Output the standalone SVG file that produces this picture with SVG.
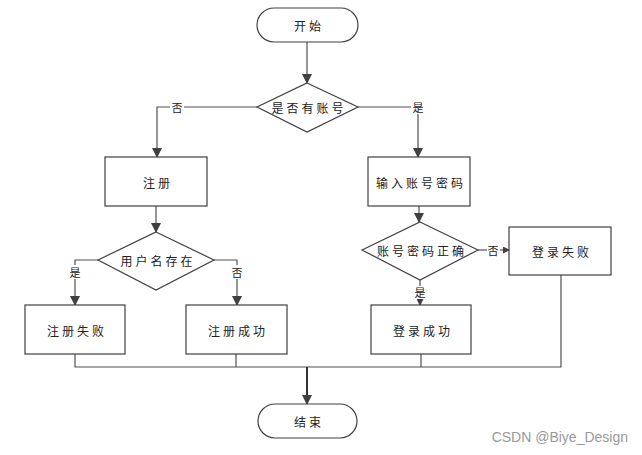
<svg xmlns="http://www.w3.org/2000/svg" width="642" height="455" viewBox="0 0 642 455">
<defs>
<style>
.n{fill:#fff;stroke:#404040;stroke-width:1.2}
.t{font-family:"Noto Sans CJK SC","Liberation Serif",serif;font-size:12px;fill:#222;text-anchor:middle;dominant-baseline:central;letter-spacing:3px}
.c{fill:none;stroke:#505050;stroke-width:1.2}
.lb{font-family:"Noto Sans CJK SC","Liberation Serif",serif;font-size:11px;fill:#222;text-anchor:middle;dominant-baseline:central}
.bg{fill:#fff}
</style>
<marker id="a" markerWidth="10" markerHeight="10" refX="9" refY="5" orient="auto" markerUnits="userSpaceOnUse"><path d="M0,0 L10,5 L0,10 Z" fill="#404040"/></marker>
<marker id="s" markerWidth="7" markerHeight="7" refX="6" refY="3.5" orient="auto" markerUnits="userSpaceOnUse"><path d="M0,0 L7,3.5 L0,7 Z" fill="#404040"/></marker>
</defs>
<rect width="642" height="455" fill="#fff"/>
<g id="connectors">
<path class="c" d="M307,42 V83" marker-end="url(#a)"/>
<path class="c" d="M257,107 H157 V157" marker-end="url(#a)"/>
<path class="c" d="M358,107 H418 V157" marker-end="url(#a)"/>
<path class="c" d="M156,206 V232" marker-end="url(#a)"/>
<path class="c" d="M419,206 V222" marker-end="url(#a)"/>
<path class="c" d="M98,260 H75 V305" marker-end="url(#a)"/>
<path class="c" d="M214,260 H237 V305" marker-end="url(#a)"/>
<path class="c" d="M478,250 H509" marker-end="url(#s)"/>
<path class="c" d="M420,280 V305" marker-end="url(#s)"/>
<path class="c" d="M75,354 V367 H561 V275"/>
<path class="c" d="M236,354 V367 M421,354 V367"/>
<path d="M307,367 V404" fill="none" stroke="#333" stroke-width="2" marker-end="url(#a)"/>
<rect class="bg" x="170" y="100" width="14" height="14"/>
<text class="lb" x="177" y="107">否</text>
<rect class="bg" x="411" y="100" width="14" height="14"/>
<text class="lb" x="418" y="107">是</text>
<rect class="bg" x="68" y="265" width="14" height="14"/>
<text class="lb" x="75" y="272">是</text>
<rect class="bg" x="230" y="265" width="14" height="14"/>
<text class="lb" x="237" y="272">否</text>
<rect class="bg" x="487" y="243" width="13" height="14"/>
<text class="lb" x="493" y="250">否</text>
<rect class="bg" x="413" y="286" width="14" height="13"/>
<text class="lb" x="420" y="292">是</text>
</g>
<g id="start"><rect class="n" x="257" y="8" width="101" height="34" rx="17"/><text class="t" x="309" y="25">开始</text></g>
<g id="hasAccount"><polygon class="n" points="307,83 358,107 307,132 257,107"/><text class="t" x="309" y="107">是否有账号</text></g>
<g id="register"><rect class="n" x="105" y="157" width="102" height="49"/><text class="t" x="158" y="182">注册</text></g>
<g id="inputPwd"><rect class="n" x="368" y="157" width="102" height="49"/><text class="t" x="421" y="182">输入账号密码</text></g>
<g id="userExists"><polygon class="n" points="156,232 214,260 156,290 98,260"/><text class="t" x="158" y="260">用户名存在</text></g>
<g id="pwdCorrect"><polygon class="n" points="420,222 478,250 420,280 362,250"/><text class="t" x="422" y="250">账号密码正确</text></g>
<g id="loginFail"><rect class="n" x="509" y="227" width="102" height="48"/><text class="t" x="562" y="251">登录失败</text></g>
<g id="regFail"><rect class="n" x="25" y="305" width="100" height="49"/><text class="t" x="77" y="330">注册失败</text></g>
<g id="regOk"><rect class="n" x="186" y="305" width="101" height="49"/><text class="t" x="238" y="330">注册成功</text></g>
<g id="loginOk"><rect class="n" x="371" y="305" width="100" height="49"/><text class="t" x="423" y="330">登录成功</text></g>
<g id="end"><rect class="n" x="258" y="404" width="99" height="34" rx="17"/><text class="t" x="309" y="421">结束</text></g>
<text x="628" y="437" font-family="Liberation Sans,Arial,sans-serif" font-size="14" fill="#999" text-anchor="end" dominant-baseline="central">CSDN @Biye_Design</text>
</svg>
